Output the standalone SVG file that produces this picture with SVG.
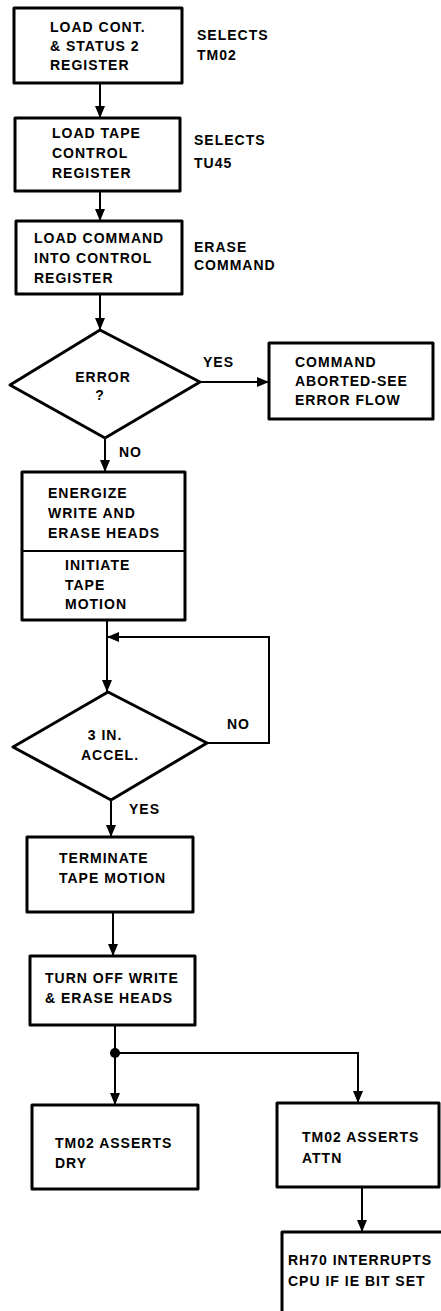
<svg xmlns="http://www.w3.org/2000/svg" width="441" height="1311" viewBox="0 0 441 1311">
<defs>
<style>
.box{fill:#fff;stroke:#000;stroke-width:3;stroke-linejoin:round}
.ln{fill:none;stroke:#000;stroke-width:2}
text{font-family:"Liberation Sans",Arial,sans-serif;font-weight:bold;font-size:14px;letter-spacing:1px;fill:#000}
.c{text-anchor:middle}
</style>
<marker id="ah" viewBox="0 0 12 10" refX="12" refY="5" markerWidth="12" markerHeight="10" markerUnits="userSpaceOnUse" orient="auto">
<path d="M0,0 L12,5 L0,10 z" fill="#000"/>
</marker>
</defs>
<rect width="441" height="1311" fill="#fff"/>
<g id="connectors">
<line class="ln" x1="100" y1="83" x2="100" y2="118" marker-end="url(#ah)"/>
<line class="ln" x1="100" y1="191" x2="100" y2="221" marker-end="url(#ah)"/>
<line class="ln" x1="100" y1="294" x2="100" y2="330" marker-end="url(#ah)"/>
<line class="ln" x1="200" y1="382" x2="269" y2="382" marker-end="url(#ah)"/>
<line class="ln" x1="105" y1="438" x2="105" y2="472" marker-end="url(#ah)"/>
<line class="ln" x1="107" y1="620" x2="107" y2="692" marker-end="url(#ah)"/>
<polyline class="ln" points="207,743 269,743 269,637 107,637" marker-end="url(#ah)"/>
<line class="ln" x1="111" y1="800" x2="111" y2="837" marker-end="url(#ah)"/>
<line class="ln" x1="113" y1="912" x2="113" y2="956" marker-end="url(#ah)"/>
<line class="ln" x1="115" y1="1025" x2="115" y2="1105" marker-end="url(#ah)"/>
<polyline class="ln" points="115,1053 358,1053 358,1103" marker-end="url(#ah)"/>
<circle cx="115" cy="1053" r="5" fill="#000"/>
<line class="ln" x1="362" y1="1187" x2="362" y2="1232" marker-end="url(#ah)"/>
<text x="203" y="367">YES</text>
<text x="119" y="457">NO</text>
<text x="227" y="729">NO</text>
<text x="129" y="814">YES</text>
</g>
<g id="n1">
<rect class="box" x="14" y="8" width="168" height="75"/>
<text x="50" y="32">LOAD CONT.</text>
<text x="50" y="51">&amp; STATUS 2</text>
<text x="50" y="70">REGISTER</text>
</g>
<g id="a1">
<text x="197" y="40">SELECTS</text>
<text x="197" y="60">TM02</text>
</g>
<g id="n2">
<rect class="box" x="15" y="118" width="165" height="73"/>
<text x="52" y="138">LOAD TAPE</text>
<text x="52" y="158">CONTROL</text>
<text x="52" y="178">REGISTER</text>
</g>
<g id="a2">
<text x="194" y="145">SELECTS</text>
<text x="194" y="168">TU45</text>
</g>
<g id="n3">
<rect class="box" x="16" y="221" width="166" height="73"/>
<text x="34" y="243">LOAD COMMAND</text>
<text x="34" y="263">INTO CONTROL</text>
<text x="34" y="283">REGISTER</text>
</g>
<g id="a3">
<text x="194" y="252">ERASE</text>
<text x="194" y="270">COMMAND</text>
</g>
<g id="d1">
<polygon class="box" points="100,330 200,382 105,438 10,385"/>
<text class="c" x="103" y="382">ERROR</text>
<text class="c" x="100" y="400">?</text>
</g>
<g id="n4">
<rect class="box" x="269" y="343" width="164" height="76"/>
<text x="295" y="367">COMMAND</text>
<text x="295" y="386">ABORTED-SEE</text>
<text x="295" y="405">ERROR FLOW</text>
</g>
<g id="n5">
<rect class="box" x="22" y="472" width="163" height="148"/>
<line class="ln" x1="22" y1="551" x2="185" y2="551"/>
<text x="48" y="498">ENERGIZE</text>
<text x="48" y="518">WRITE AND</text>
<text x="48" y="538">ERASE HEADS</text>
<text x="65" y="570">INITIATE</text>
<text x="65" y="590">TAPE</text>
<text x="65" y="609">MOTION</text>
</g>
<g id="d2">
<polygon class="box" points="108,692 207,743 111,800 13,747"/>
<text class="c" x="105" y="740">3 IN.</text>
<text class="c" x="110" y="760">ACCEL.</text>
</g>
<g id="n6">
<rect class="box" x="27" y="837" width="166" height="75"/>
<text x="59" y="863">TERMINATE</text>
<text x="59" y="883">TAPE MOTION</text>
</g>
<g id="n7">
<rect class="box" x="30" y="956" width="165" height="69"/>
<text x="45" y="983">TURN OFF WRITE</text>
<text x="45" y="1003">&amp; ERASE HEADS</text>
</g>
<g id="n8">
<rect class="box" x="32" y="1105" width="166" height="84"/>
<text x="55" y="1148">TM02 ASSERTS</text>
<text x="55" y="1168">DRY</text>
</g>
<g id="n9">
<rect class="box" x="277" y="1103" width="162" height="84"/>
<text x="302" y="1142">TM02 ASSERTS</text>
<text x="302" y="1163">ATTN</text>
</g>
<g id="n10">
<rect class="box" x="282" y="1232" width="170" height="90"/>
<text x="288" y="1265">RH70 INTERRUPTS</text>
<text x="288" y="1286">CPU IF IE BIT SET</text>
</g>
</svg>
